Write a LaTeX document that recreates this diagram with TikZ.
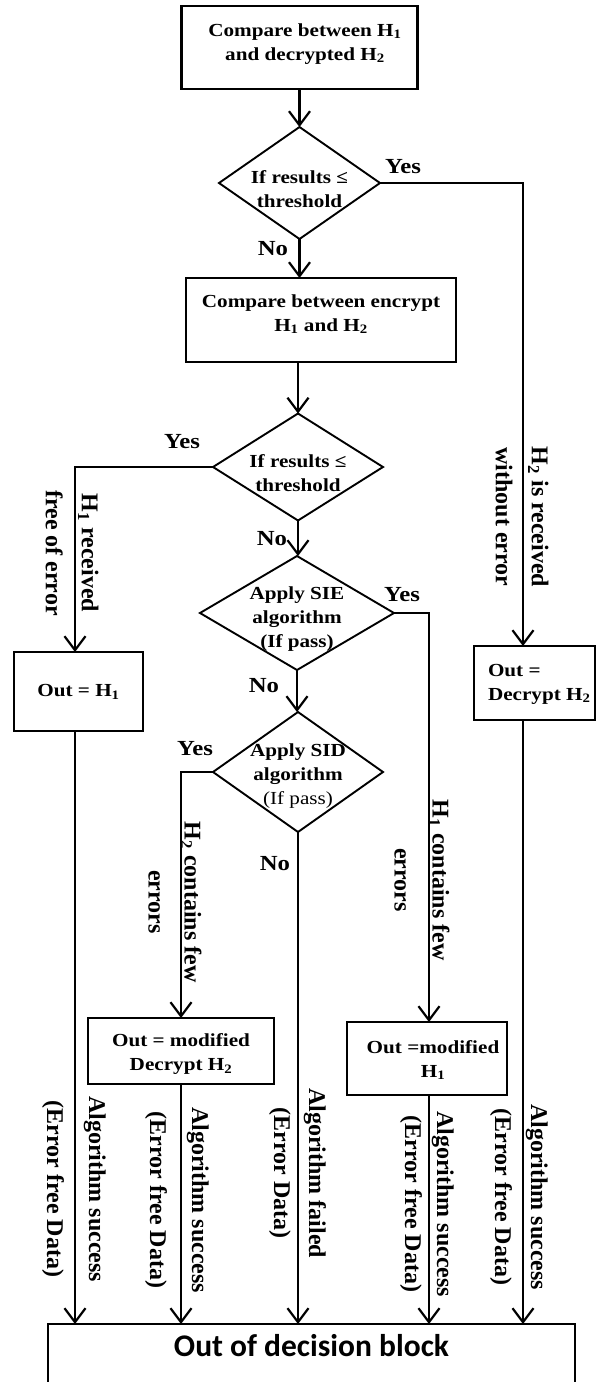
\documentclass[tikz,border=0pt]{standalone}
\usepackage{fontspec}
\setmainfont{Liberation Serif}
\newfontfamily\hs{Liberation Serif}[FakeStretch=1.15]
\newfontfamily\cb{Carlito}
\usetikzlibrary{shapes.geometric,arrows.meta}
\begin{document}
\begin{tikzpicture}[x=1pt,y=-1pt,
  every node/.style={inner sep=0pt, outer sep=0pt},
  box/.style={draw, line width=2.2pt},
  dia/.style={draw, diamond, line width=1.9pt},
  btext/.style={align=center, font=\hs\bfseries\fontsize{18.4}{24}\selectfont},
  lab/.style={font=\hs\bfseries\fontsize{21.5}{24}\selectfont},
  rlab/.style={rotate=-90, align=center, font=\bfseries\fontsize{24}{#1}\selectfont},
  ln/.style={line width=2.2pt},
  arr/.style={line width=2.2pt, -{Straight Barb[length=14pt,width=21pt]}}]
\useasboundingbox (0,0) rectangle (596,1382);

% boxes and decisions
\node[box, minimum width=236pt, minimum height=83pt] (b1) at (299.5,47.5) {};
\node[btext] (b1t) at (305,44) {Compare between H\textsubscript{1}\\and decrypted H\textsubscript{2}};
\node[dia, minimum width=161pt, minimum height=112pt] (d1) at (299.5,183) {};
\node[btext] (d1t) at (299.5,189) {If results ≤\\threshold};
\node[box, minimum width=270pt, minimum height=84pt] (b2) at (321,320) {};
\node[btext] (b2t) at (321,314) {Compare between encrypt\\H\textsubscript{1} and H\textsubscript{2}};
\node[dia, minimum width=170pt, minimum height=107pt] (d2) at (298,467) {};
\node[btext] (d2t) at (298,473) {If results ≤\\threshold};
\node[dia, minimum width=194pt, minimum height=114pt] (d3) at (297,613) {};
\node[btext] (d3t) at (297,619) {Apply SIE\\algorithm\\(If pass)};
\node[dia, minimum width=170pt, minimum height=120pt] (d4) at (298,772) {};
\node[btext] (d4t) at (298,776) {Apply SID\\algorithm\\{\mdseries(If pass)}};

\node[box, minimum width=129pt, minimum height=79pt] (o1) at (78.5,691.5) {};
\node[btext] (o1t) at (78.5,692) {Out = H\textsubscript{1}};
\node[box, minimum width=121pt, minimum height=74pt] (o2) at (534.5,683) {};
\node[btext, align=left, anchor=west] (o2t) at (488,684) {Out =\\Decrypt H\textsubscript{2}};
\node[box, minimum width=186pt, minimum height=66pt] (o3) at (181,1051) {};
\node[btext] (o3t) at (181,1054) {Out = modified\\Decrypt H\textsubscript{2}};
\node[box, minimum width=160pt, minimum height=73pt] (o4) at (427,1058.5) {};
\node[btext] (o4t) at (433,1060) {Out =modified\\H\textsubscript{1}};

\node[font=\cb\bfseries\fontsize{31.5}{36}\selectfont, minimum width=527pt,
      text height=32pt, text depth=26pt, anchor=north] (fin) at (311.5,1324) {Out of decision block};
\draw[ln] (fin.south west) -- (fin.north west) -- (fin.north east) -- (fin.south east);

% line positions
\coordinate (xL) at (75,0);
\coordinate (xM) at (429,0);
\coordinate (xR) at (523,0);

% connectors
\draw[arr] (b1.south -| d1.north) -- (d1.north);
\draw[arr] (d1.east) -| (xR |- o2.north);
\draw[arr] (d1.south) -- (d1.south |- b2.north);
\draw[arr] (d2.north |- b2.south) -- (d2.north);
\draw[arr] (d2.west) -| (xL |- o1.north);
\draw[arr] (d2.south) -- (d2.south |- d3.north);
\draw[arr] (d3.east) -| (xM |- o4.north);
\draw[arr] (d3.south) -- (d3.south |- d4.north);
\draw[arr] (d4.west) -| (o3.north);
\draw[arr] (d4.south) -- (d4.south |- fin.north);
\draw[arr] (xL |- o1.south) -- (xL |- fin.north);
\draw[arr] (o3.south) -- (o3.south |- fin.north);
\draw[arr] (xM |- o4.south) -- (xM |- fin.north);
\draw[arr] (xR |- o2.south) -- (xR |- fin.north);

% yes / no labels
\node[lab] (y1) at (403,167) {Yes};
\node[lab] (y2) at (182,442) {Yes};
\node[lab] (y3) at (402,595) {Yes};
\node[lab] (y4) at (195,749) {Yes};
\node[lab] (n1) at (273,249) {No};
\node[lab] (n2) at (272,539) {No};
\node[lab] (n3) at (264,686) {No};
\node[lab] (n4) at (275,864) {No};

% rotated labels
\node[rlab=36] (r1) at (72,553) {H\textsubscript{1} received\\free of error};
\node[rlab=36] (r2) at (522,517) {H\textsubscript{2} is received\\without error};
\node[rlab=38] (r3) at (422,880) {H\textsubscript{1} contains few\\errors};
\node[rlab=36] (r4) at (175,902) {H\textsubscript{2} contains few\\errors};
\node[rlab=42] (r5) at (74,1189) {Algorithm success\\(Error free Data)};
\node[rlab=42] (r6) at (177,1200) {Algorithm success\\(Error free Data)};
\node[rlab=35] (r7) at (297.5,1173) {Algorithm failed\\(Error Data)};
\node[rlab=32] (r8) at (427,1204) {Algorithm success\\(Error free Data)};
\node[rlab=36] (r9) at (519,1197) {Algorithm success\\(Error free Data)};
\end{tikzpicture}
\end{document}
